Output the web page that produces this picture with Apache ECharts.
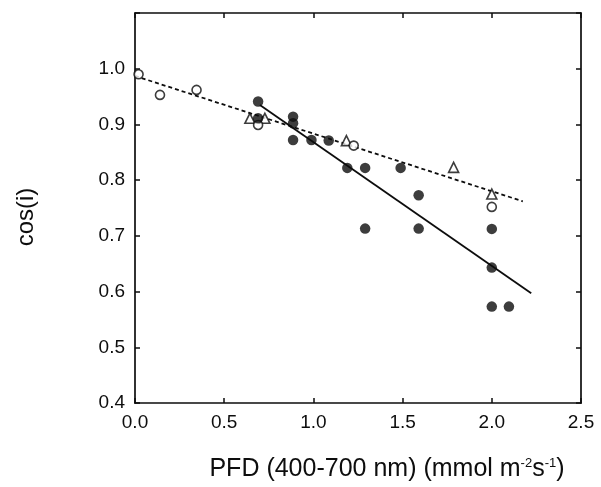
<!doctype html>
<html>
	<head>
		<meta charset="UTF-8">
		<title>cos(i) vs PFD</title>
		<style type="text/css">
			html, body{
				margin: 0;
				padding: 0;
				background: #fff;
			}
			#chart{
				width: 601px;
				height: 487px;
			}
		</style>
	</head>
	<body>
		<div id="chart"></div>
		<script src="https://cdn.jsdelivr.net/npm/echarts/dist/echarts.min.js"></script>
		<script type="text/javascript">
			// points: [PFD, cos(i)]
			var openCircles = [[0.02,0.99],[0.14,0.953],[0.345,0.962],[0.69,0.899],[1.226,0.862],[2.0,0.752]];
			var filledCircles = [[0.69,0.941],[0.69,0.911],[0.886,0.914],[0.886,0.902],[0.886,0.872],[0.989,0.872],[1.086,0.871],
				[1.19,0.822],[1.29,0.822],[1.489,0.822],[1.59,0.773],[1.29,0.713],[1.59,0.713],[2.0,0.7125],[2.0,0.643],[2.0,0.573],[2.096,0.573]];
			var triangles = [[0.644,0.911],[0.728,0.911],[1.185,0.871],[1.786,0.823],[2.0,0.775]];
			// regression lines (end points)
			var dashedFit = [[0,0.987],[2.174,0.762]];
			var solidFit = [[0.70,0.935],[2.221,0.597]];
			var xTicks = [0, 2.5, 0.5];   // min, max, step
			var yTicks = [0.4, 1.1, 0.1];

			var ink = '#0d0d0d';
			var font = 'Liberation Sans';

			function frameAxis(pos, range, showLabel){
				return {
					type: 'value',
					position: pos,
					min: range[0],
					max: range[1],
					interval: range[2],
					axisLine: {show: true, onZero: false, lineStyle: {color: ink, width: 1.7}},
					axisTick: {show: true, inside: true, length: 5, lineStyle: {color: ink, width: 1.5}},
					splitLine: {show: false},
					axisLabel: {show: showLabel}
				};
			}

			var xMain = frameAxis('bottom', xTicks, true);
			xMain.axisLabel = {
				show: true, margin: 10, color: ink, fontFamily: font, fontSize: 19,
				formatter: function(v){ return v.toFixed(1); }
			};
			xMain.name = 'PFD (400-700 nm) (mmol m{sup|-2}s{sup|-1})';
			xMain.nameLocation = 'middle';
			xMain.nameGap = 54;
			xMain.nameTextStyle = {
				color: ink, fontFamily: font, fontSize: 25, padding: [0, 0, 0, 58],
				rich: {sup: {fontSize: 13, fontFamily: font, color: ink, verticalAlign: 'top', lineHeight: 25}}
			};

			var yMain = frameAxis('left', yTicks, true);
			yMain.axisLabel = {
				show: true, margin: 10, color: ink, fontFamily: font, fontSize: 19,
				formatter: function(v){ return v > 1.05 ? '' : v.toFixed(1); }
			};
			yMain.name = 'cos(i)';
			yMain.nameLocation = 'middle';
			yMain.nameGap = 97;
			yMain.nameTextStyle = {color: ink, fontFamily: font, fontSize: 24, padding: [0, 18, 0, 0]};

			var myChart = echarts.init(document.getElementById('chart'));
			var option = {
				backgroundColor: '#fff',
				animation: false,
				grid: {left: 135, right: 20, top: 13, bottom: 83},
				xAxis: [xMain, frameAxis('top', xTicks, false)],
				yAxis: [yMain, frameAxis('right', yTicks, false)],
				series: [
					{
						type: 'line',
						data: dashedFit,
						symbol: 'none',
						lineStyle: {color: ink, width: 1.8, type: [4, 3]},
						z: 2
					},
					{
						type: 'line',
						data: solidFit,
						symbol: 'none',
						lineStyle: {color: ink, width: 1.8},
						z: 2
					},
					{
						type: 'scatter',
						data: triangles,
						symbol: 'triangle',
						symbolSize: 10,
						itemStyle: {color: '#fff', borderColor: ink, borderWidth: 1.6},
						z: 3
					},
					{
						type: 'scatter',
						data: openCircles,
						symbol: 'circle',
						symbolSize: 9,
						itemStyle: {color: '#fff', borderColor: ink, borderWidth: 1.6},
						z: 3
					},
					{
						type: 'scatter',
						data: filledCircles,
						symbol: 'circle',
						symbolSize: 10.5,
						itemStyle: {color: ink},
						z: 4
					}
				]
			};
			myChart.setOption(option, true);
		</script>
	</body>
</html>
